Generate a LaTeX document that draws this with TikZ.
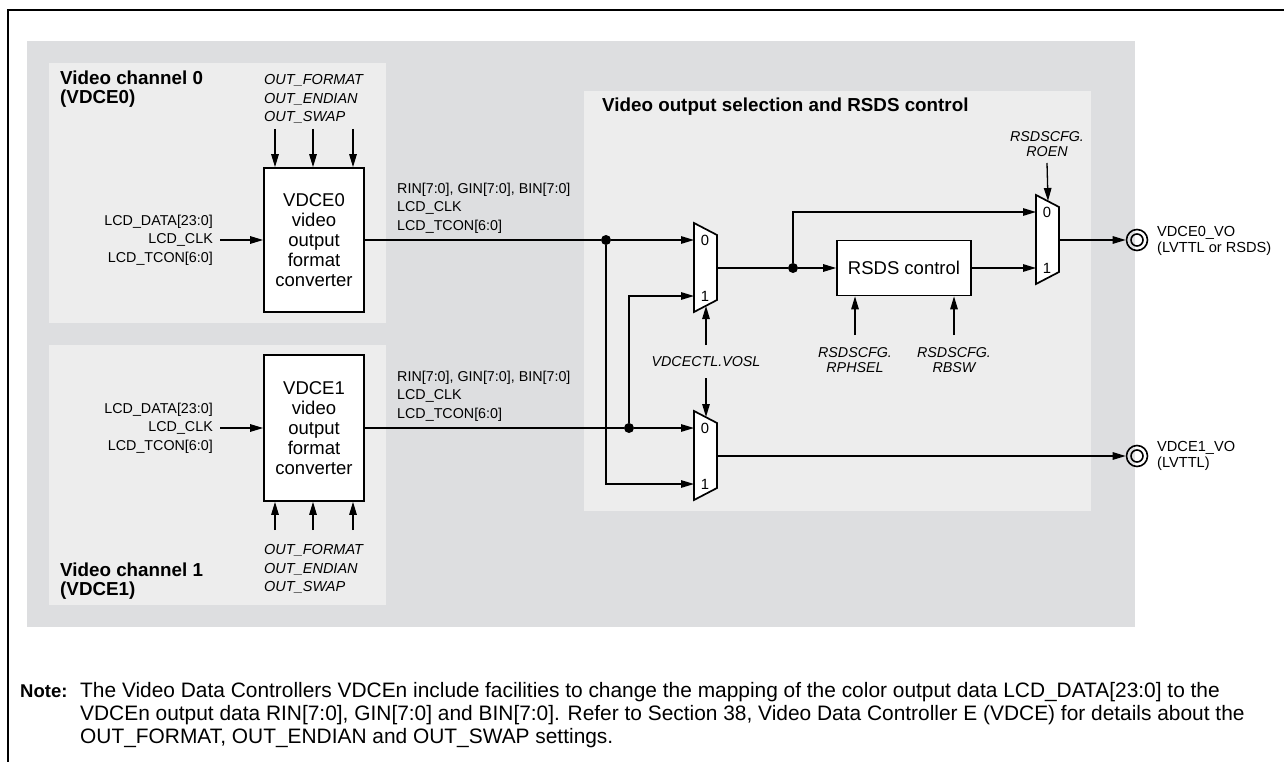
\documentclass[tikz,border=0pt]{standalone}
\usepackage{fontspec}
\setmainfont{Liberation Sans}
\usepackage{xcolor}
\usetikzlibrary{arrows.meta}

\definecolor{bggray}{RGB}{221,222,224}
\definecolor{panelgray}{RGB}{237,237,237}

% mux: name, left x, top y
\newcommand{\vmux}[3]{%
  \draw[muxline] (#2,#3) -- ++(23,12) -- ++(0,65) -- ++(-23,12) -- cycle;
  \coordinate (#1-in0) at (#2,#3+17);
  \coordinate (#1-in1) at (#2,#3+73);
  \coordinate (#1-out) at (#2+23,#3+45);
  \coordinate (#1-top) at (#2+12,#3+6);
  \coordinate (#1-bot) at (#2+12,#3+83);
  \node[muxnum] (#1-l0) at (#2+11,#3+17) {0};
  \node[muxnum] (#1-l1) at (#2+11,#3+73) {1};
}

\begin{document}
\begin{tikzpicture}[x=1pt, y=-1pt,
  blk/.style={draw, line width=1.7pt, fill=white, align=center,
              font=\fontsize{18.5}{20}\selectfont, inner sep=0pt},
  lbl/.style={inner sep=0pt, font=\fontsize{14.3}{18.5}\selectfont},
  ilbl/.style={inner sep=0pt, font=\fontsize{14.3}{15.5}\selectfont\itshape},
  ttl/.style={inner sep=0pt, align=left, font=\fontsize{18.8}{18.5}\selectfont\bfseries},
  muxline/.style={draw, fill=white, line width=1.7pt, line join=miter},
  muxnum/.style={inner sep=0pt, font=\fontsize{14.8}{16}\selectfont},
  sig/.style={-{Triangle[length=13pt, width=7.5pt]}, line width=1.3pt},
  wire/.style={line width=1.3pt},
  dot/.style={circle, fill, inner sep=0pt, minimum size=10pt},
  pin/.style={circle, draw, line width=1.6pt, minimum size=21pt, inner sep=0pt}]
  \useasboundingbox (0,0) rectangle (1284,762);
  \fill[white] (0,0) rectangle (1284,762);
  \draw[line width=2pt] (1284,10) -- (8,10) -- (8,762);

  % backgrounds
  \fill[bggray] (27,41) rectangle (1135,627);
  \fill[panelgray] (49,63) rectangle (386,323);
  \fill[panelgray] (49,345) rectangle (386,605);
  \fill[panelgray] (584,91) rectangle (1091,511);

  \node[ttl, anchor=west] (ch0) at (60,89) {Video channel 0\\(VDCE0)};
  \node[ttl, anchor=west] (ch1) at (60,581) {Video channel 1\\(VDCE1)};
  \node[ttl, anchor=west] (vos) at (602,107) {Video output selection and RSDS control};

  % converters
  \node[blk, minimum width=100pt, minimum height=144pt] (conv0) at (314,240)
    {VDCE0\\video\\output\\format\\converter};
  \node[blk, minimum width=100pt, minimum height=146pt] (conv1) at (314,428)
    {VDCE1\\video\\output\\format\\converter};

  \node[lbl, align=right, anchor=east] (in0) at (213,240)
    {LCD\_DATA[23:0]\\LCD\_CLK\\LCD\_TCON[6:0]};
  \node[lbl, align=right, anchor=east] (in1) at (213,428)
    {LCD\_DATA[23:0]\\LCD\_CLK\\LCD\_TCON[6:0]};
  \draw[sig] ([xshift=7pt]in0.east) -- (conv0.west);
  \draw[sig] ([xshift=7pt]in1.east) -- (conv1.west);

  \node[ilbl, align=left, anchor=west, font=\fontsize{14.5}{18.5}\selectfont\itshape]
    (fmt0) at (264,99) {OUT\_FORMAT\\OUT\_ENDIAN\\OUT\_SWAP};
  \node[ilbl, align=left, anchor=west, font=\fontsize{14.5}{18.5}\selectfont\itshape]
    (fmt1) at (264,569) {OUT\_FORMAT\\OUT\_ENDIAN\\OUT\_SWAP};
  \foreach \x [count=\i] in {275,313,353} {
    \coordinate (top\i) at (\x,129);
    \draw[sig] (top\i) -- (top\i |- conv0.north);
    \coordinate (bot\i) at (\x,530);
    \draw[sig] (bot\i) -- (bot\i |- conv1.south);
  }

  \node[lbl, align=left, anchor=west] (bus0) at (397,208)
    {RIN[7:0], GIN[7:0], BIN[7:0]\\LCD\_CLK\\LCD\_TCON[6:0]};
  \node[lbl, align=left, anchor=west] (bus1) at (397,396)
    {RIN[7:0], GIN[7:0], BIN[7:0]\\LCD\_CLK\\LCD\_TCON[6:0]};

  % selection
  \vmux{m1}{694}{223}
  \vmux{m2}{694}{411}
  \vmux{m3}{1036}{195}

  \node[dot] (d0) at (606,240) {};
  \node[dot] (d1) at (629,428) {};
  \node[dot] (d2) at (793,268) {};
  \draw[wire] (conv0.east) -- (d0);
  \draw[sig] (d0) -- (m1-in0);
  \draw[sig] (d0) |- (m2-in1);
  \draw[wire] (conv1.east) -- (d1);
  \draw[sig] (d1) -- (m2-in0);
  \draw[sig] (d1) |- (m1-in1);

  \node[ilbl] (vosl) at (706,362) {VDCECTL.VOSL};
  \coordinate (s1) at (706,345);
  \coordinate (s2) at (706,378);
  \draw[sig] (s1) -- (m1-bot);
  \draw[sig] (s2) -- (m2-top);

  % RSDS
  \node[blk, minimum width=134pt, minimum height=55pt] (rsds) at (904,268) {RSDS control};
  \draw[wire] (m1-out) -- (d2);
  \draw[sig] (d2) -- (rsds);
  \draw[sig] (d2) |- (m3-in0);
  \draw[sig] (rsds.east) -- (m3-in1);

  \node[ilbl, align=center] (roen) at (1047,144) {RSDSCFG.\\ROEN};
  \coordinate (s3) at (1047,163);
  \draw[sig] (s3) -- (m3-top);
  \node[ilbl, align=center] (rph) at (855,360) {RSDSCFG.\\RPHSEL};
  \node[ilbl, align=center] (rbs) at (954,360) {RSDSCFG.\\RBSW};
  \coordinate (r1) at (855,335);
  \coordinate (r2) at (954,335);
  \draw[sig] (r1) -- (r1 |- rsds.south);
  \draw[sig] (r2) -- (r2 |- rsds.south);

  % outputs
  \node[pin] (vo0) at (1137,240) {};
  \node[pin] (vo1) at (1137,456) {};
  \draw[line width=1.6pt] (vo0.center) circle[radius=6pt];
  \draw[line width=1.6pt] (vo1.center) circle[radius=6pt];
  \draw[sig] (m3-out) -- (vo0);
  \draw[sig] (m2-out) -- (vo1);
  \node[lbl, align=left, anchor=west, font=\fontsize{14.6}{15.5}\selectfont]
    (vo0lbl) at (1157,241) {VDCE0\_VO\\(LVTTL or RSDS)};
  \node[lbl, align=left, anchor=west, font=\fontsize{14.6}{15.5}\selectfont]
    (vo1lbl) at (1157,456) {VDCE1\_VO\\(LVTTL)};

  % note
  \node[anchor=base west, inner sep=0pt, font=\fontsize{18.5}{23}\selectfont\bfseries]
    (note) at (20,697) {Note:};
  \node[anchor=north west, inner sep=0pt, align=left, font=\fontsize{20.9}{23}\selectfont]
    (notetxt) at (80,682) {The Video Data Controllers VDCEn include facilities to change the mapping of the color output data LCD\_DATA[23:0] to the\\
    VDCEn output data RIN[7:0], GIN[7:0] and BIN[7:0]. Refer to Section 38, Video Data Controller E (VDCE) for details about the\\
    OUT\_FORMAT, OUT\_ENDIAN and OUT\_SWAP settings.};
\end{tikzpicture}
\end{document}
